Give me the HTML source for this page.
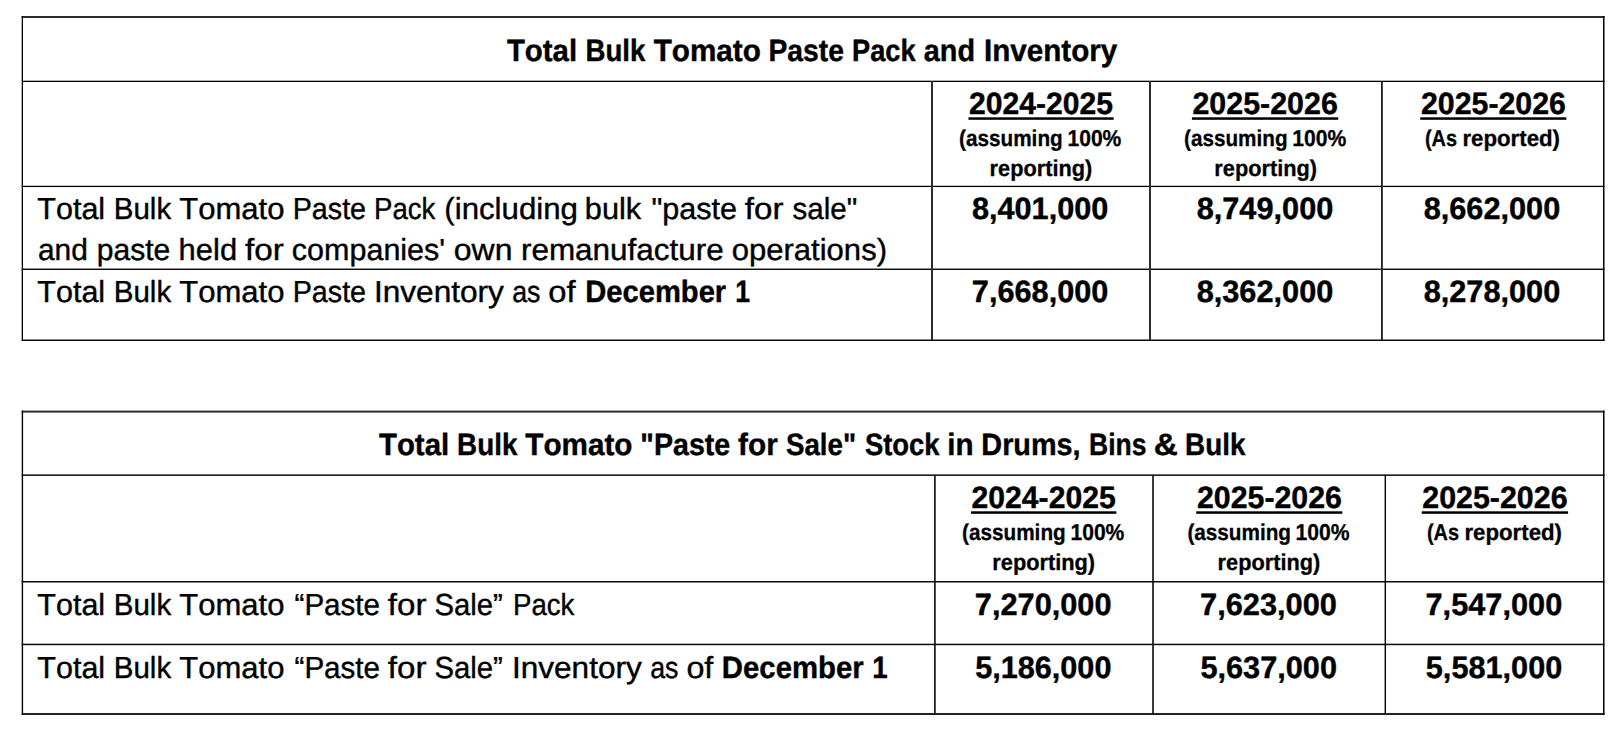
<!DOCTYPE html>
<html lang="en"><head><meta charset="utf-8"><title>Total Bulk Tomato Paste Pack and Inventory</title>
<style>
html,body{margin:0;padding:0;background:#fff}
body{width:1622px;height:734px;position:relative;overflow:hidden;font-family:"Liberation Sans",sans-serif;color:#000;font-kerning:none;font-variant-ligatures:none;text-rendering:geometricPrecision}
.ln{position:absolute;left:0;top:0}
.t{position:absolute;left:0;width:1622px;height:52px;margin:0}
.w{position:absolute;left:0;white-space:pre;line-height:40px;transform-origin:0 0}
.R{font-size:30.4px;top:10px;-webkit-text-stroke:0.4px #000}
.B{font-size:30.9px;font-weight:bold;top:10px;-webkit-text-stroke:0.4px #000}
.S{font-size:22.95px;font-weight:bold;top:12px;-webkit-text-stroke:0.3px #000}

</style></head><body>
<svg class="ln" width="1622" height="734" viewBox="0 0 1622 734"><rect x="21.70" y="16.00" width="1582.80" height="2.00" fill="#2d2d2d"/><rect x="21.70" y="80.70" width="1582.80" height="1.30" fill="#000"/><rect x="21.70" y="185.75" width="1582.80" height="1.30" fill="#000"/><rect x="21.70" y="268.55" width="1582.80" height="1.40" fill="#050505"/><rect x="21.70" y="339.50" width="1582.80" height="1.50" fill="#0d0d0d"/><rect x="21.70" y="16.00" width="1.30" height="325.00" fill="#000"/><rect x="1603.00" y="16.00" width="1.50" height="325.00" fill="#000"/><rect x="931.00" y="81.00" width="2.00" height="259.00" fill="#2d2d2d"/><rect x="1149.00" y="81.00" width="2.00" height="259.00" fill="#2d2d2d"/><rect x="1381.00" y="81.00" width="1.80" height="259.00" fill="#1c1c1c"/><rect x="21.70" y="410.60" width="1582.80" height="2.00" fill="#2d2d2d"/><rect x="21.70" y="474.40" width="1582.80" height="1.50" fill="#0a0a0a"/><rect x="21.70" y="581.00" width="1582.80" height="1.50" fill="#0a0a0a"/><rect x="21.70" y="643.70" width="1582.80" height="1.50" fill="#0a0a0a"/><rect x="21.70" y="713.00" width="1582.80" height="2.00" fill="#222"/><rect x="21.70" y="410.60" width="1.40" height="304.40" fill="#000"/><rect x="1603.00" y="410.60" width="1.50" height="304.40" fill="#000"/><rect x="934.10" y="475.00" width="1.60" height="239.00" fill="#0a0a0a"/><rect x="1152.20" y="475.00" width="1.60" height="239.00" fill="#0a0a0a"/><rect x="1384.60" y="475.00" width="1.40" height="239.00" fill="#000"/><rect x="968.47" y="117.30" width="145.18" height="2.50" fill="#000"/><rect x="1191.89" y="117.30" width="146.33" height="2.50" fill="#000"/><rect x="1420.23" y="117.30" width="146.09" height="2.50" fill="#000"/><rect x="970.99" y="511.30" width="145.39" height="2.50" fill="#000"/><rect x="1196.23" y="511.30" width="146.09" height="2.50" fill="#000"/><rect x="1421.75" y="511.30" width="146.33" height="2.50" fill="#000"/></svg>
<div class="t" style="top:21px"><span class="w B" id="w0" style="transform:translateX(506.93px) scaleX(0.9508)">Total </span><span class="w B" id="w1" style="transform:translateX(585.50px) scaleX(0.8947)">Bulk </span><span class="w B" id="w2" style="transform:translateX(653.72px) scaleX(0.9606)">Tomato </span><span class="w B" id="w3" style="transform:translateX(768.41px) scaleX(0.9152)">Paste </span><span class="w B" id="w4" style="transform:translateX(852.02px) scaleX(0.8804)">Pack </span><span class="w B" id="w5" style="transform:translateX(923.78px) scaleX(0.9324)">and </span><span class="w B" id="w6" style="transform:translateX(983.98px) scaleX(0.9590)">Inventory</span></div>
<div class="t" style="top:74px"><span class="w B" id="w7" style="transform:translateX(969.02px) scaleX(0.9743)">2024-2025</span></div>
<div class="t" style="top:74px"><span class="w B" id="w8" style="transform:translateX(1192.47px) scaleX(0.9838)">2025-2026</span></div>
<div class="t" style="top:74px"><span class="w B" id="w9" style="transform:translateX(1420.93px) scaleX(0.9815)">2025-2026</span></div>
<div class="t" style="top:106px"><span class="w S" id="w10" style="transform:translateX(959.08px) scaleX(0.9032)">(assuming </span><span class="w S" id="w11" style="transform:translateX(1067.45px) scaleX(0.9183)">100%</span></div>
<div class="t" style="top:136px"><span class="w S" id="w12" style="transform:translateX(989.62px) scaleX(0.9473)">reporting)</span></div>
<div class="t" style="top:106px"><span class="w S" id="w13" style="transform:translateX(1184.03px) scaleX(0.9022)">(assuming </span><span class="w S" id="w14" style="transform:translateX(1292.30px) scaleX(0.9206)">100%</span></div>
<div class="t" style="top:136px"><span class="w S" id="w15" style="transform:translateX(1214.33px) scaleX(0.9484)">reporting)</span></div>
<div class="t" style="top:106px"><span class="w S" id="w16" style="transform:translateX(1424.96px) scaleX(0.8678)">(As </span><span class="w S" id="w17" style="transform:translateX(1462.44px) scaleX(0.9693)">reported)</span></div>
<div class="t" style="top:179px"><span class="w R" id="w18" style="transform:translateX(37.35px) scaleX(1.0029)">Total </span><span class="w R" id="w19" style="transform:translateX(113.73px) scaleX(0.9709)">Bulk </span><span class="w R" id="w20" style="transform:translateX(179.29px) scaleX(1.0203)">Tomato </span><span class="w R" id="w21" style="transform:translateX(292.68px) scaleX(0.9446)">Paste </span><span class="w R" id="w22" style="transform:translateX(374.10px) scaleX(0.9065)">Pack </span><span class="w R" id="w23" style="transform:translateX(444.32px) scaleX(1.0271)">(including </span><span class="w R" id="w24" style="transform:translateX(584.84px) scaleX(1.0100)">bulk </span><span class="w R" id="w25" style="transform:translateX(651.44px) scaleX(1.0061)">"paste </span><span class="w R" id="w26" style="transform:translateX(744.84px) scaleX(1.0891)">for </span><span class="w R" id="w27" style="transform:translateX(792.54px) scaleX(0.9726)">sale"</span></div>
<div class="t" style="top:220px"><span class="w R" id="w28" style="transform:translateX(37.97px) scaleX(0.9827)">and </span><span class="w R" id="w29" style="transform:translateX(96.81px) scaleX(0.9879)">paste </span><span class="w R" id="w30" style="transform:translateX(178.60px) scaleX(1.0189)">held </span><span class="w R" id="w31" style="transform:translateX(245.07px) scaleX(1.0952)">for </span><span class="w R" id="w32" style="transform:translateX(291.85px) scaleX(1.0034)">companies' </span><span class="w R" id="w33" style="transform:translateX(453.77px) scaleX(1.0519)">own </span><span class="w R" id="w34" style="transform:translateX(520.93px) scaleX(1.0349)">remanufacture </span><span class="w R" id="w35" style="transform:translateX(731.69px) scaleX(1.0214)">operations)</span></div>
<div class="t" style="top:262px"><span class="w R" id="w36" style="transform:translateX(37.35px) scaleX(1.0029)">Total </span><span class="w R" id="w37" style="transform:translateX(113.73px) scaleX(0.9709)">Bulk </span><span class="w R" id="w38" style="transform:translateX(179.29px) scaleX(1.0203)">Tomato </span><span class="w R" id="w39" style="transform:translateX(292.68px) scaleX(0.9446)">Paste </span><span class="w R" id="w40" style="transform:translateX(373.93px) scaleX(1.0398)">Inventory </span><span class="w R" id="w41" style="transform:translateX(512.14px) scaleX(0.8818)">as </span><span class="w R" id="w42" style="transform:translateX(548.32px) scaleX(1.0770)">of </span><span class="w B" id="w43" style="transform:translateX(585.26px) scaleX(0.9434)">December </span><span class="w B" id="w44" style="transform:translateX(735.17px) scaleX(0.8626)">1</span></div>
<div class="t" style="top:179px"><span class="w B" id="w45" style="transform:translateX(971.90px) scaleX(0.9927)">8,401,000</span></div>
<div class="t" style="top:179px"><span class="w B" id="w46" style="transform:translateX(1196.66px) scaleX(0.9946)">8,749,000</span></div>
<div class="t" style="top:179px"><span class="w B" id="w47" style="transform:translateX(1423.66px) scaleX(0.9940)">8,662,000</span></div>
<div class="t" style="top:262px"><span class="w B" id="w48" style="transform:translateX(971.85px) scaleX(0.9933)">7,668,000</span></div>
<div class="t" style="top:262px"><span class="w B" id="w49" style="transform:translateX(1196.66px) scaleX(0.9946)">8,362,000</span></div>
<div class="t" style="top:262px"><span class="w B" id="w50" style="transform:translateX(1423.66px) scaleX(0.9940)">8,278,000</span></div>
<div class="t" style="top:415px"><span class="w B" id="w51" style="transform:translateX(378.95px) scaleX(0.9517)">Total </span><span class="w B" id="w52" style="transform:translateX(457.10px) scaleX(0.9008)">Bulk </span><span class="w B" id="w53" style="transform:translateX(525.30px) scaleX(0.9608)">Tomato </span><span class="w B" id="w54" style="transform:translateX(640.32px) scaleX(0.9262)">"Paste </span><span class="w B" id="w55" style="transform:translateX(738.05px) scaleX(0.9640)">for </span><span class="w B" id="w56" style="transform:translateX(786.00px) scaleX(0.8960)">Sale" </span><span class="w B" id="w57" style="transform:translateX(864.89px) scaleX(0.8876)">Stock </span><span class="w B" id="w58" style="transform:translateX(947.36px) scaleX(0.9572)">in </span><span class="w B" id="w59" style="transform:translateX(981.35px) scaleX(0.9322)">Drums, </span><span class="w B" id="w60" style="transform:translateX(1089.01px) scaleX(0.8575)">Bins </span><span class="w B" id="w61" style="transform:translateX(1153.68px) scaleX(1.0795)">&amp; </span><span class="w B" id="w62" style="transform:translateX(1185.10px) scaleX(0.9008)">Bulk</span></div>
<div class="t" style="top:468px"><span class="w B" id="w63" style="transform:translateX(971.61px) scaleX(0.9751)">2024-2025</span></div>
<div class="t" style="top:468px"><span class="w B" id="w64" style="transform:translateX(1196.93px) scaleX(0.9815)">2025-2026</span></div>
<div class="t" style="top:468px"><span class="w B" id="w65" style="transform:translateX(1422.22px) scaleX(0.9840)">2025-2026</span></div>
<div class="t" style="top:500px"><span class="w S" id="w66" style="transform:translateX(962.08px) scaleX(0.9032)">(assuming </span><span class="w S" id="w67" style="transform:translateX(1070.45px) scaleX(0.9183)">100%</span></div>
<div class="t" style="top:530px"><span class="w S" id="w68" style="transform:translateX(992.33px) scaleX(0.9484)">reporting)</span></div>
<div class="t" style="top:500px"><span class="w S" id="w69" style="transform:translateX(1187.40px) scaleX(0.9030)">(assuming </span><span class="w S" id="w70" style="transform:translateX(1295.61px) scaleX(0.9208)">100%</span></div>
<div class="t" style="top:530px"><span class="w S" id="w71" style="transform:translateX(1217.62px) scaleX(0.9473)">reporting)</span></div>
<div class="t" style="top:500px"><span class="w S" id="w72" style="transform:translateX(1426.96px) scaleX(0.8678)">(As </span><span class="w S" id="w73" style="transform:translateX(1464.44px) scaleX(0.9693)">reported)</span></div>
<div class="t" style="top:575px"><span class="w R" id="w74" style="transform:translateX(37.35px) scaleX(1.0029)">Total </span><span class="w R" id="w75" style="transform:translateX(113.73px) scaleX(0.9709)">Bulk </span><span class="w R" id="w76" style="transform:translateX(179.29px) scaleX(1.0203)">Tomato </span><span class="w R" id="w77" style="transform:translateX(294.53px) scaleX(0.9733)">“Paste </span><span class="w R" id="w78" style="transform:translateX(387.84px) scaleX(1.0891)">for </span><span class="w R" id="w79" style="transform:translateX(434.42px) scaleX(0.9641)">Sale” </span><span class="w R" id="w80" style="transform:translateX(512.98px) scaleX(0.9094)">Pack</span></div>
<div class="t" style="top:638px"><span class="w R" id="w81" style="transform:translateX(37.35px) scaleX(1.0029)">Total </span><span class="w R" id="w82" style="transform:translateX(113.73px) scaleX(0.9709)">Bulk </span><span class="w R" id="w83" style="transform:translateX(179.29px) scaleX(1.0203)">Tomato </span><span class="w R" id="w84" style="transform:translateX(294.53px) scaleX(0.9733)">“Paste </span><span class="w R" id="w85" style="transform:translateX(387.84px) scaleX(1.0891)">for </span><span class="w R" id="w86" style="transform:translateX(434.42px) scaleX(0.9641)">Sale” </span><span class="w R" id="w87" style="transform:translateX(511.98px) scaleX(1.0378)">Inventory </span><span class="w R" id="w88" style="transform:translateX(650.14px) scaleX(0.8818)">as </span><span class="w R" id="w89" style="transform:translateX(686.39px) scaleX(1.0611)">of </span><span class="w B" id="w90" style="transform:translateX(721.86px) scaleX(0.9493)">December </span><span class="w B" id="w91" style="transform:translateX(872.33px) scaleX(0.8969)">1</span></div>
<div class="t" style="top:575px"><span class="w B" id="w92" style="transform:translateX(974.84px) scaleX(0.9945)">7,270,000</span></div>
<div class="t" style="top:575px"><span class="w B" id="w93" style="transform:translateX(1200.05px) scaleX(0.9957)">7,623,000</span></div>
<div class="t" style="top:575px"><span class="w B" id="w94" style="transform:translateX(1425.51px) scaleX(0.9950)">7,547,000</span></div>
<div class="t" style="top:638px"><span class="w B" id="w95" style="transform:translateX(975.13px) scaleX(0.9919)">5,186,000</span></div>
<div class="t" style="top:638px"><span class="w B" id="w96" style="transform:translateX(1200.39px) scaleX(0.9941)">5,637,000</span></div>
<div class="t" style="top:638px"><span class="w B" id="w97" style="transform:translateX(1425.80px) scaleX(0.9934)">5,581,000</span></div>
</body></html>
